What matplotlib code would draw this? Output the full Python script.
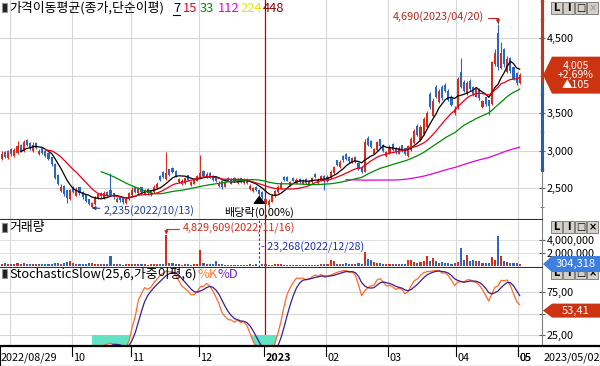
import numpy as np
import pandas as pd
import matplotlib
matplotlib.use("Agg")
import matplotlib.pyplot as plt
from matplotlib.patches import Rectangle, Polygon

plt.rcParams['font.family'] = ['Noto Sans CJK KR', 'DejaVu Sans']
plt.rcParams['axes.unicode_minus'] = False

W, H = 600, 366
RED = '#d42d1c'
BLUE = '#2b66c2'

# trading days (KRX holidays removed)
holidays = ['2022-09-09', '2022-09-12', '2022-10-03', '2022-10-10', '2022-12-30',
            '2023-01-23', '2023-01-24', '2023-03-01', '2023-05-01']
dates = pd.bdate_range('2022-08-29', '2023-05-02')
dates = dates[~dates.isin(pd.to_datetime(holidays))]

opens = [2890, 2980, 2900, 3020, 2930, 2970, 3080, 2990, 3140, 3100,
         2990, 3100, 2950, 3040, 2990, 2970, 2910, 2820, 2680, 2460,
         2530, 2470, 2350, 2520, 2400, 2510, 2450, 2410, 2350, 2250,
         2290, 2360, 2440, 2370, 2450, 2470, 2430, 2320, 2390, 2370,
         2300, 2350, 2410, 2510, 2430, 2510, 2420, 2490, 2410, 2450,
         2500, 2660, 2710, 2620, 2750, 2770, 2730, 2580, 2550, 2570,
         2670, 2540, 2560, 2600, 2630, 2730, 2640, 2700, 2660, 2650,
         2530, 2600, 2520, 2640, 2560, 2640, 2570, 2630, 2570, 2620,
         2490, 2460, 2520, 2480, 2450, 2290, 2270, 2320, 2390, 2450,
         2500, 2650, 2650, 2540, 2640, 2570, 2620, 2560, 2620, 2550,
         2580, 2690, 2570, 2600, 2660, 2590, 2630, 2700, 2870, 2780,
         2930, 2960, 2920, 2840, 2920, 2840, 2780, 2720, 3170, 3130,
         2960, 3010, 3150, 3080, 2930, 2970, 3090, 3040, 2960, 3070,
         3030, 2930, 3010, 3100, 3330, 3140, 3220, 3310, 3750, 3460,
         3850, 3650, 3850, 3880, 3800, 3720, 3500, 3570, 4050, 3920,
         3750, 3930, 3850, 3720, 3820, 3580, 3710, 3670, 3620, 4150,
         4570, 4100, 4350, 4050, 4240, 4110, 4030, 3895]
highs = [2990, 3000, 3010, 3040, 3030, 3130, 3090, 3140, 3150, 3110,
         3120, 3110, 3020, 3050, 3000, 2980, 2920, 2830, 2690, 2560,
         2540, 2480, 2490, 2530, 2510, 2520, 2460, 2420, 2360, 2320,
         2400, 2440, 2450, 2460, 2460, 2700, 2440, 2380, 2400, 2380,
         2380, 2450, 2510, 2520, 2520, 2520, 2490, 2500, 2480, 2540,
         2580, 2680, 2730, 2980, 2760, 2780, 2740, 2640, 2620, 2650,
         2680, 2600, 2640, 2680, 2940, 2740, 2710, 2710, 2670, 2660,
         2590, 2610, 2600, 2650, 2630, 2650, 2640, 2640, 2630, 2630,
         2550, 2520, 2530, 2490, 2460, 2370, 2350, 2420, 2480, 2540,
         2590, 2660, 2660, 2600, 2650, 2630, 2630, 2620, 2630, 2610,
         2650, 2700, 2630, 2680, 2670, 2670, 2740, 2800, 2880, 2870,
         2940, 2970, 2930, 2920, 2930, 2850, 2790, 3150, 3190, 3140,
         3040, 3130, 3160, 3090, 3000, 3070, 3100, 3050, 3060, 3080,
         3040, 3080, 3180, 3290, 3350, 3340, 3450, 3530, 3780, 3700,
         3870, 3820, 3870, 3900, 3820, 3740, 3590, 3980, 4230, 3940,
         3930, 3950, 3860, 3840, 3830, 3680, 3720, 3680, 4200, 4350,
         4690, 4450, 4370, 4260, 4250, 4120, 4050, 4030]
lows = [2870, 2900, 2890, 2930, 2920, 2960, 2980, 2980, 3060, 3010,
        2980, 3020, 2940, 2950, 2910, 2870, 2800, 2620, 2540, 2450,
        2400, 2300, 2340, 2430, 2390, 2410, 2360, 2310, 2270, 2235,
        2280, 2350, 2370, 2360, 2390, 2400, 2360, 2310, 2320, 2290,
        2290, 2340, 2400, 2430, 2420, 2440, 2410, 2410, 2400, 2440,
        2490, 2590, 2640, 2610, 2660, 2700, 2650, 2570, 2540, 2560,
        2590, 2530, 2550, 2590, 2620, 2650, 2630, 2630, 2600, 2580,
        2520, 2490, 2510, 2590, 2550, 2580, 2560, 2570, 2560, 2560,
        2480, 2450, 2460, 2400, 2360, 2280, 2250, 2310, 2380, 2440,
        2490, 2590, 2590, 2530, 2590, 2560, 2570, 2550, 2560, 2540,
        2570, 2640, 2560, 2590, 2470, 2580, 2620, 2690, 2790, 2770,
        2850, 2870, 2840, 2830, 2830, 2740, 2700, 2710, 3060, 3030,
        2950, 3000, 3040, 2980, 2920, 2960, 2990, 2960, 2950, 2980,
        2940, 2920, 3000, 3090, 3190, 3130, 3210, 3300, 3560, 3450,
        3700, 3640, 3680, 3780, 3660, 3590, 3480, 3560, 3830, 3780,
        3740, 3800, 3730, 3710, 3680, 3570, 3600, 3480, 3610, 4130,
        4080, 4090, 4120, 4030, 4040, 3940, 3880, 3890]
closes = [2960, 2920, 2990, 2950, 3010, 3060, 3000, 3110, 3080, 3030,
          3070, 3040, 3000, 2970, 2930, 2890, 2820, 2640, 2560, 2520,
          2420, 2370, 2470, 2450, 2480, 2430, 2380, 2330, 2290, 2300,
          2380, 2420, 2390, 2440, 2400, 2410, 2380, 2360, 2340, 2320,
          2360, 2430, 2480, 2450, 2500, 2450, 2470, 2430, 2470, 2520,
          2560, 2610, 2650, 2700, 2680, 2720, 2660, 2620, 2600, 2630,
          2610, 2580, 2620, 2660, 2700, 2660, 2690, 2640, 2610, 2590,
          2570, 2520, 2580, 2600, 2610, 2590, 2620, 2580, 2610, 2570,
          2530, 2500, 2470, 2420, 2380, 2350, 2330, 2400, 2460, 2520,
          2570, 2610, 2600, 2580, 2600, 2610, 2580, 2600, 2570, 2600,
          2630, 2650, 2610, 2660, 2600, 2650, 2720, 2780, 2810, 2850,
          2870, 2890, 2860, 2900, 2850, 2760, 2720, 3120, 3080, 3050,
          3020, 3110, 3060, 3000, 2980, 3050, 3010, 2980, 3040, 3000,
          2960, 3060, 3160, 3260, 3210, 3320, 3420, 3500, 3580, 3660,
          3720, 3790, 3700, 3800, 3680, 3610, 3560, 3950, 3850, 3800,
          3900, 3820, 3750, 3820, 3700, 3660, 3620, 3600, 4180, 4300,
          4120, 4300, 4150, 4220, 4060, 3960, 3900, 4005]
volumes = [350000, 420000, 300000, 280000, 380000, 450000, 320000, 500000, 300000, 260000,
           340000, 300000, 280000, 260000, 320000, 300000, 350000, 450000, 400000, 380000,
           500000, 550000, 700000, 400000, 300000, 280000, 300000, 350000, 420000, 500000,
           380000, 300000, 260000, 300000, 250000, 1500000, 350000, 280000, 250000, 230000,
           240000, 380000, 300000, 250000, 300000, 260000, 240000, 220000, 260000, 330000,
           280000, 250000, 300000, 4829609, 500000, 450000, 300000, 250000, 220000, 240000,
           250000, 200000, 250000, 300000, 2400000, 500000, 300000, 350000, 350000, 700000,
           250000, 300000, 200000, 220000, 200000, 180000, 200000, 180000, 170000, 200000,
           250000, 220000, 260000, 23268, 300000, 250000, 220000, 230000, 260000, 240000,
           250000, 220000, 200000, 180000, 200000, 170000, 180000, 160000, 190000, 200000,
           210000, 180000, 200000, 250000, 320000, 300000, 900000, 850000, 300000, 280000,
           350000, 400000, 300000, 280000, 350000, 400000, 350000, 2200000, 1100000, 900000,
           600000, 500000, 400000, 350000, 300000, 350000, 380000, 300000, 350000, 300000,
           330000, 1000000, 1000000, 600000, 500000, 550000, 700000, 1500000, 700000, 1300000,
           700000, 500000, 600000, 500000, 400000, 350000, 400000, 600000, 2800000, 900000,
           1700000, 800000, 1000000, 700000, 800000, 500000, 400000, 500000, 1400000, 900000,
           4600000, 1600000, 700000, 600000, 500000, 400000, 450000, 304318]

ma_periods = [7, 15, 33, 112, 224, 448]
ma_colors = ['#000000', '#e8001c', '#008a00', '#e000e0', '#e6e600', '#8b0000']
ex_div_date = '2022-12-28'
range_bar = [2740, 3900]   # blue / red split on the right axis
stoch_last = 53.41

o = np.array(opens, float)
h = np.array(highs, float)
l = np.array(lows, float)
c = np.array(closes, float)
v = np.array(volumes, float)
x = np.arange(len(c))
cols = np.where(c >= o, RED, BLUE)
month_idx = [i for i in range(1, len(dates)) if dates[i].month != dates[i - 1].month]
i_year = [i for i in month_idx if dates[i].month == 1][0]


def fx(px):
    return px / W


def fy(py):
    return 1 - py / H


PXB = 3.1  # pixels per bar
XL = (-2 / PXB, 540 / PXB)

fig = plt.figure(figsize=(6, 3.66), dpi=100)
ax1 = fig.add_axes([0, fy(219), 542 / W, 219 / H])
ax2 = fig.add_axes([0, fy(267), 542 / W, 47 / H])
ax3 = fig.add_axes([0, fy(346), 542 / W, 78 / H])

for ax in (ax1, ax2, ax3):
    ax.set_xlim(XL)
    ax.set_xticks([])
    for sp in ('top', 'left'):
        ax.spines[sp].set_visible(False)
    ax.spines['right'].set_color('#808080')
    ax.spines['bottom'].set_color('#303030')
    ax.yaxis.tick_right()
    ax.tick_params(axis='y', direction='inout', length=5, width=0.8, color='#606060',
                   labelsize=7.8, pad=1)
    ax.tick_params(axis='y', which='minor', direction='inout', length=3, width=0.6, color='#606060')
    for m in month_idx:
        if m == i_year:
            ax.axvline(m - 0.3, color='#c00000', lw=0.9, zorder=1)
        else:
            ax.axvline(m - 0.4, color='#d6d6d6', lw=0.8, zorder=0)

# ---- price panel
ax1.set_ylim(2087, 5007)
for p in [2500, 3000, 3500, 4000, 4500]:
    ax1.axhline(p, color='#d6d6d6', lw=0.8, zorder=0)
ax1.set_yticks([2500, 3000, 3500, 4500])
ax1.set_yticklabels([f'{t:,}' for t in [2500, 3000, 3500, 4500]])
ax1.set_yticks(np.arange(2250, 5001, 250), minor=True)

s = pd.Series(c)
for n, mc in zip(ma_periods, ma_colors):
    ax1.plot(x, s.rolling(n).mean(), color=mc, lw=0.9, zorder=3)
ax1.vlines(x, l, h, colors=cols, lw=0.8, zorder=2)
ax1.bar(x, np.maximum(np.abs(c - o), 8), bottom=np.minimum(o, c), width=0.66,
        color=cols, linewidth=0, zorder=2)

ax1.plot([XL[1]] * 2, [range_bar[1], 5007], color='#c8321e', lw=2.2, clip_on=False, zorder=5)
ax1.plot([XL[1]] * 2, [range_bar[0], range_bar[1] - 20], color='#2a5db0', lw=2.2, clip_on=False, zorder=5)

ih = int(np.argmax(h))
ax1.annotate(f'{int(h[ih]):,}({dates[ih]:%Y/%m/%d})', xy=(ih, h[ih]), xytext=(-14, 6),
             textcoords='offset pixels', ha='right', va='center', fontsize=7.8, color='#b8281a',
             arrowprops=dict(arrowstyle='-|>', color='#b8281a', lw=0.8, mutation_scale=5,
                             connectionstyle='angle,angleA=0,angleB=90,rad=0', shrinkA=1, shrinkB=0))
il = int(np.argmin(l))
ax1.annotate(f'{int(l[il]):,}({dates[il]:%Y/%m/%d})', xy=(il, l[il]), xytext=(12, -3),
             textcoords='offset pixels', ha='left', va='center', fontsize=7.8, color='#2040a0',
             arrowprops=dict(arrowstyle='-|>', color='#2040a0', lw=0.8, mutation_scale=5,
                             shrinkA=1, shrinkB=0))
ie = int(np.where(dates == pd.Timestamp(ex_div_date))[0][0])
ax1.annotate('배당락(0,00%)', xy=(ie, l[ie] - 15), xytext=(0, -16), textcoords='offset pixels',
             ha='center', va='center', fontsize=8, color='black',
             arrowprops=dict(arrowstyle='simple,head_width=0.9,head_length=0.6,tail_width=0.45',
                             color='black', shrinkA=3, shrinkB=0))

# ---- volume panel
ax2.set_ylim(-0.15e6, 7.1e6)
for t in [2e6, 4e6]:
    ax2.axhline(t, color='#e0e0e0', lw=0.7, zorder=0)
ax2.set_yticks([2e6, 4e6])
ax2.set_yticklabels(['2,000,000', '4,000,000'])
ax2.bar(x, v, width=0.66, color=cols, linewidth=0, zorder=2)
iv = int(np.argmax(v))
ax2.annotate(f'{int(v[iv]):,}({dates[iv]:%Y/%m/%d})', xy=(iv, v[iv]), xytext=(17, 6),
             textcoords='offset pixels', ha='left', va='center', fontsize=7.8, color='#d42d1c',
             arrowprops=dict(arrowstyle='-|>', color='#d42d1c', lw=0.8, mutation_scale=5,
                             connectionstyle='angle,angleA=0,angleB=90,rad=0', shrinkA=1, shrinkB=0))
imin = int(np.argmin(v))
ax2.axvline(imin, color='#2030c0', lw=0.8, ls=(0, (2, 2)), zorder=3)
ax2.annotate(f'- {int(v[imin]):,}({dates[imin]:%Y/%m/%d})', xy=(imin, 2.9e6), xytext=(2, 0),
             textcoords='offset pixels', ha='left', va='center', fontsize=7.8, color='#2030c0')

# ---- stochastic slow (25, 6 weighted, 6) on closing prices
hh = s.rolling(25).max()
ll = s.rolling(25).min()
fastk = (s - ll) / (hh - ll) * 100
wts = np.arange(1, 7)
slowk = fastk.rolling(6).apply(lambda a: np.dot(a, wts) / wts.sum(), raw=True)
slowd = slowk.rolling(6).apply(lambda a: np.dot(a, wts) / wts.sum(), raw=True)
ax3.set_ylim(12.2, 103)
for t in [25, 50, 75]:
    ax3.axhline(t, color='#d6d6d6', lw=0.8, zorder=0)
ax3.set_yticks([25, 50, 75])
ax3.set_yticklabels(['25,00', '', '75,00'])
kv = slowk.values
ax3.fill_between(x, kv, 25, where=kv < 25, color='#62e3c4', lw=0, interpolate=True, zorder=1)
ax3.plot(x, slowk, color='#ff6a2a', lw=0.9, zorder=3)
ax3.plot(x, slowd, color='#3c1e8c', lw=0.9, zorder=3)

# ---- date row
axd = fig.add_axes([0, 0, 1, 20 / H])
axd.set_xlim(-2 / PXB, 598 / PXB)
axd.set_ylim(0, 1)
axd.set_xticks([])
axd.set_yticks([])
for sp in axd.spines.values():
    sp.set_color('black')
axd.spines['top'].set_linewidth(1.6)
axd.text(-0.4, 0.42, f'{dates[0]:%Y/%m/%d}', ha='left', va='center', fontsize=7.8)
for m in month_idx[1:]:
    axd.plot([m - 0.4] * 2, [1, 0.5], color='black', lw=0.8)
    if m == i_year:
        lab, fw = f'{dates[m]:%Y}', 'bold'
    else:
        lab, fw = f'{dates[m]:%m}', 'normal'
    axd.text(m - 0.1, 0.42, lab, ha='left', va='center', fontsize=7.8, fontweight=fw)
axd.plot([len(x) - 1 - 0.4] * 2, [1, 0.5], color='black', lw=0.8)
axd.text(len(x) - 1 - 0.1, 0.42, f'{dates[-1]:%m}', ha='left', va='center', fontsize=7.8)
axd.text(598 / PXB, 0.42, f'{dates[-1]:%Y/%m/%d}', ha='right', va='center', fontsize=7.8)


# ---- headers
def icon(py):
    fig.patches.append(Rectangle((fx(2), fy(py + 9)), fx(5), 9 / H, transform=fig.transFigure,
                                 fc='#202020', ec='#909090', lw=0.8))


icon(3)
fig.text(fx(9), fy(8), '가격이동평균(종가,단순이평)', fontsize=9.3, va='center', ha='left')
for px, txt, tc in [(173, '7', 'black'), (183, '15', ma_colors[1]), (200, '33', ma_colors[2]),
                    (218, '112', ma_colors[3]), (240, '224', ma_colors[4]), (263, '448', ma_colors[5])]:
    fig.text(fx(px), fy(8), txt, fontsize=9.3, va='center', ha='left', color=tc)
fig.add_artist(plt.Line2D([fx(173), fx(180)], [fy(15), fy(15)], color='black', lw=0.8))
icon(223)
fig.text(fx(9), fy(228), '거래량', fontsize=9.3, va='center', ha='left')
icon(269)
fig.text(fx(9), fy(274), 'StochasticSlow(25,6,가중이평,6)', fontsize=9.3, va='center', ha='left')
fig.text(fx(197), fy(274), '%K', fontsize=9.3, va='center', ha='left', color='#ff7a30')
fig.text(fx(218), fy(274), '%D', fontsize=9.3, va='center', ha='left', color='#7a20c8')


# window buttons
def buttons(py, last_gray):
    for k, g in enumerate(['L', 'I', '□', '×']):
        x0 = 551 + k * 12
        fig.patches.append(Rectangle((fx(x0), fy(py + 12)), 11 / W, 12 / H, transform=fig.transFigure,
                                     fc='#d4d0c8', ec='#707070', lw=0.6))
        gc = '#a0a0a0' if (k == 3 and last_gray) else 'black'
        fig.text(fx(x0 + 5.5), fy(py + 6), g, ha='center', va='center', fontsize=7,
                 fontweight='bold', color=gc, family='DejaVu Sans')


buttons(2, True)
buttons(221, False)
buttons(267, False)


# value tags on the right axis
def tag(ax, val, text, color, hpx, fs=7.6):
    fig.canvas.draw()
    yc = ax.transData.transform((0, val))[1]
    y0, y1 = yc - hpx / 2, yc + hpx / 2
    pts = [(543, yc), (552, y1), (600, y1), (600, y0), (552, y0)]
    fig.patches.append(Polygon([(px / W, py / H) for px, py in pts], closed=True,
                               transform=fig.transFigure, fc=color, ec='none', zorder=10))
    fig.text(fx(576), yc / H, text, ha='center', va='center', color='white', fontsize=fs,
             linespacing=0.95, zorder=11)


chg = c[-1] - c[-2]
tag(ax1, c[-1], f'{int(c[-1]):,}\n+{chg / c[-2] * 100:.2f}%\n▲{int(chg)}'.replace('.', ','), '#cc3311', 37)
tag(ax2, v[-1], f'{int(v[-1]):,}', '#3d7fe0', 16, fs=8)
tag(ax3, stoch_last, f'{stoch_last:.2f}'.replace('.', ','), '#cc3311', 14, fs=8)

fig.savefig('out.png', dpi=100, facecolor='white')
